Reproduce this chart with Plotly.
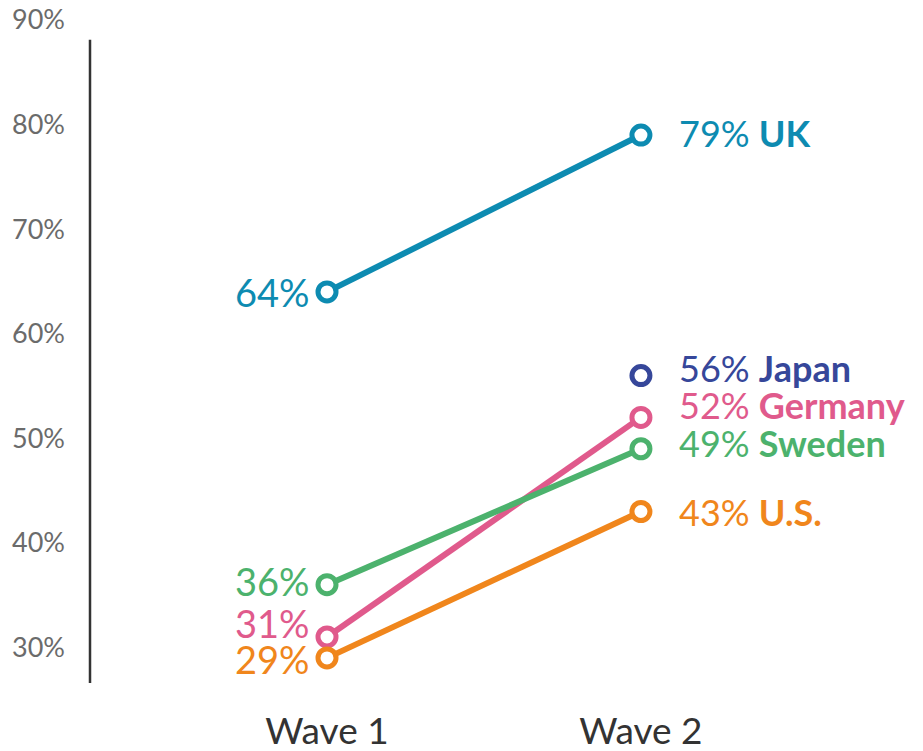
import plotly.graph_objects as go

# data
waves = ["Wave 1", "Wave 2"]
countries = ["UK", "Japan", "Germany", "Sweden", "U.S."]
wave1 = [64, None, 31, 36, 29]
wave2 = [79, 56, 52, 49, 43]
colors = ["#0d8bb1", "#36479a", "#e05a8c", "#4cb26d", "#f0861c"]
ytick_vals = [30, 40, 50, 60, 70, 80, 90]

# label nudges (pixels) so the stacked labels don't collide
left_shift = [0, 0, 14, 4, -1]
right_shift = [2, 8, 12, 6, 0]

FONT = "Lato, 'Open Sans', sans-serif"

fig = go.Figure()

for i, c in enumerate(countries):
    fig.add_trace(go.Scatter(
        x=waves, y=[wave1[i], wave2[i]],
        mode="lines+markers",
        line=dict(color=colors[i], width=6),
        marker=dict(size=18, color="white", line=dict(color=colors[i], width=5)),
        name=c, showlegend=False, cliponaxis=False,
    ))
    if wave1[i] is not None:
        fig.add_annotation(
            x=waves[0], y=wave1[i], text=f"{wave1[i]}%",
            xanchor="right", yanchor="middle", xshift=-15, yshift=left_shift[i],
            showarrow=False, font=dict(family=FONT, size=38, color=colors[i]),
        )
    fig.add_annotation(
        x=waves[1], y=wave2[i], text=f"{wave2[i]}% <b>{c}</b>",
        xanchor="left", yanchor="middle", xshift=36, yshift=right_shift[i],
        showarrow=False, font=dict(family=FONT, size=36, color=colors[i]),
    )

# vertical axis line (does not reach the top tick)
fig.add_shape(type="line", xref="paper", yref="y", x0=0, x1=0, y0=26.6, y1=88.1,
              line=dict(color="#333333", width=2.5))

# page body has an 8px margin, so the figure is sized/offset to compensate
fig.update_layout(
    width=915, height=743,
    margin=dict(l=82, r=8, t=12, b=68),
    plot_bgcolor="white", paper_bgcolor="white",
    font=dict(family=FONT),
    xaxis=dict(
        type="category", range=[-0.755, 1.873], automargin=False,
        showgrid=False, zeroline=False, showline=False,
        tickfont=dict(size=37, color="#333333"),
        ticks="", ticklabelstandoff=23,
    ),
    yaxis=dict(
        range=[26.6, 90], tickvals=ytick_vals, automargin=False,
        ticktext=[f"{v}%" for v in ytick_vals],
        showgrid=False, zeroline=False, showline=False,
        tickfont=dict(size=27, color="#6b6b6b"),
        ticks="", ticklabelstandoff=24, ticklabeloverflow="allow",
    ),
)

fig.write_html("out.html")
